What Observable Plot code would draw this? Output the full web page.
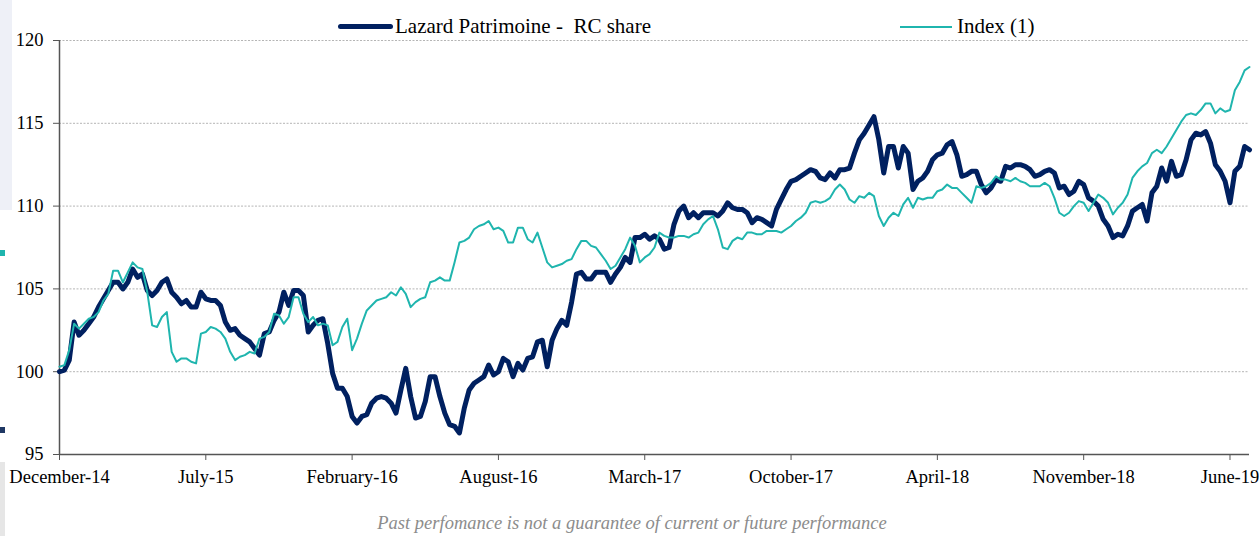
<!DOCTYPE html>
<html>
<head>
<meta charset="utf-8">
<script src="https://cdn.jsdelivr.net/npm/d3@7"></script>
<script src="https://cdn.jsdelivr.net/npm/@observablehq/plot@0.6"></script>
<style>
  html, body { margin: 0; padding: 0; background: #fff; }
  #wrap { position: relative; width: 1259px; height: 536px; overflow: hidden; font-family: "Liberation Serif", "Times New Roman", serif; }
  .leg { position: absolute; top: 12px; height: 28px; line-height: 28px; font-size: 21px; color: #000; white-space: pre; }
  .sw { position: absolute; }
  #caption { position: absolute; left: 0; width: 1264px; top: 511px; height: 24px; line-height: 24px; text-align: center; font-style: italic; font-size: 18.5px; color: #8c8c8c; }
  .deco { position: absolute; }
</style>
</head>
<body>
<div id="wrap">
  <div id="chart"></div>
  <div class="deco" style="left:0;top:0;width:12px;height:210px;background:#eef0f7;"></div>
  <div class="deco" style="left:0;top:250px;width:5px;height:6px;background:#1fb5ae;"></div>
  <div class="deco" style="left:0;top:427px;width:5px;height:6px;background:#1f3864;"></div>
  <div class="deco" style="left:0;top:462px;width:5px;height:74px;background:#e6e6e6;"></div>
  <div class="sw" id="sw1" style="left:338px;top:24px;width:55px;height:5px;border-radius:3px;"></div>
  <div class="leg" id="lg1" style="left:395px;"></div>
  <div class="sw" id="sw2" style="left:900px;top:25.5px;width:52px;height:2px;"></div>
  <div class="leg" id="lg2" style="left:957px;"></div>
  <div id="caption"></div>
</div>
<script>
// ---- Data (weekly observations, Dec-2014 .. Jul-2019) ----
const seriesNames = ["Lazard Patrimoine -  RC share", "Index (1)"];

const lazard = [
  100.0, 100.1, 100.7, 103.0, 102.2, 102.5, 102.9, 103.3, 103.9, 104.4,
  104.9, 105.4, 105.4, 105.0, 105.4, 106.2, 105.7, 105.9, 104.9, 104.6,
  104.9, 105.4, 105.6, 104.8, 104.5, 104.1, 104.3, 103.9, 103.9, 104.8,
  104.4, 104.3, 104.3, 104.0, 103.0, 102.5, 102.6, 102.2, 102.0, 101.8,
  101.4, 101.0, 102.3, 102.4, 103.1, 103.6, 104.8, 104.0, 104.9, 104.9,
  104.6, 102.4, 102.8, 103.1, 103.2, 101.7, 99.9, 99.0, 99.0, 98.5,
  97.3, 96.9, 97.3, 97.4, 98.1, 98.4, 98.5, 98.4, 98.1, 97.5,
  98.9, 100.2, 98.5, 97.2, 97.3, 98.2, 99.7, 99.7, 98.5, 97.5,
  96.8, 96.7, 96.3, 97.8, 98.9, 99.3, 99.5, 99.7, 100.4, 99.8,
  100.0, 100.8, 100.6, 99.7, 100.5, 100.1, 100.8, 100.9, 101.8, 101.9,
  100.3, 101.9, 102.6, 103.1, 102.8, 104.2, 105.9, 106.0, 105.6, 105.6,
  106.0, 106.0, 106.0, 105.4, 105.9, 106.3, 106.9, 106.6, 108.1, 108.1,
  108.3, 108.0, 108.2, 108.0, 107.4, 107.5, 108.9, 109.7, 110.0, 109.3,
  109.6, 109.3, 109.6, 109.6, 109.6, 109.4, 109.7, 110.2, 109.9, 109.8,
  109.8, 109.6, 109.0, 109.3, 109.2, 109.0, 108.8, 109.8, 110.4, 111.0,
  111.5, 111.6, 111.8, 112.0, 112.2, 112.1, 111.7, 111.6, 112.0, 111.7,
  112.2, 112.2, 112.3, 113.2, 114.0, 114.4, 114.9, 115.4, 114.0, 112.0,
  113.6, 113.6, 112.3, 113.6, 113.2, 111.0, 111.5, 111.7, 112.1, 112.8,
  113.1, 113.2, 113.7, 113.9, 113.1, 111.8, 111.9, 112.1, 112.1, 111.3,
  110.8, 111.1, 111.6, 111.5, 112.4, 112.3, 112.5, 112.5, 112.4, 112.2,
  111.8, 111.9, 112.1, 112.2, 112.0, 111.1, 111.2, 110.7, 110.9, 111.5,
  111.3, 110.5, 110.3, 110.0, 109.2, 108.8, 108.1, 108.3, 108.2, 108.8,
  109.7, 109.9, 110.1, 109.1, 110.8, 111.2, 112.3, 111.5, 112.7, 111.8,
  111.9, 112.8, 114.0, 114.4, 114.3, 114.5, 113.8, 112.5, 112.1, 111.5,
  110.2, 112.1, 112.4, 113.6, 113.4
];

const index1 = [
  100.3, 100.4, 101.3, 102.9, 102.6, 102.9, 103.2, 103.3, 103.6, 104.3,
  104.7, 106.1, 106.1, 105.4, 106.0, 106.6, 106.3, 106.2, 104.8, 102.8,
  102.7, 103.3, 103.6, 101.2, 100.6, 100.8, 100.8, 100.6, 100.5, 102.3,
  102.4, 102.7, 102.6, 102.4, 102.0, 101.2, 100.7, 100.9, 101.0, 101.2,
  101.1, 102.0, 102.1, 102.4, 103.5, 103.4, 102.9, 103.3, 104.5, 104.5,
  103.5, 103.0, 103.3, 102.8, 102.9, 102.8, 101.6, 101.8, 102.7, 103.2,
  101.3, 102.0, 102.9, 103.7, 104.0, 104.3, 104.4, 104.5, 104.8, 104.6,
  105.1, 104.7, 103.9, 104.2, 104.4, 104.5, 105.4, 105.5, 105.7, 105.5,
  105.5, 106.6, 107.8, 107.9, 108.1, 108.6, 108.8, 108.9, 109.1, 108.6,
  108.7, 108.5, 107.8, 107.8, 108.7, 108.7, 108.0, 107.8, 108.4, 107.5,
  106.6, 106.3, 106.4, 106.5, 106.7, 106.8, 107.4, 107.9, 107.9, 107.6,
  107.5, 107.1, 106.7, 106.2, 106.4, 106.9, 107.4, 108.1, 107.6, 106.6,
  106.9, 107.1, 107.5, 108.4, 108.2, 108.1, 108.1, 108.2, 108.2, 108.1,
  108.3, 108.4, 108.9, 109.2, 109.4, 108.6, 107.5, 107.4, 107.9, 108.1,
  108.0, 108.4, 108.4, 108.3, 108.3, 108.5, 108.5, 108.5, 108.4, 108.6,
  108.8, 109.1, 109.3, 109.6, 110.2, 110.3, 110.2, 110.3, 110.5, 111.0,
  111.3, 111.0, 110.4, 110.2, 110.6, 110.5, 110.8, 110.6, 109.4, 108.8,
  109.3, 109.6, 109.4, 110.1, 110.5, 109.9, 110.5, 110.4, 110.5, 110.5,
  110.9, 111.0, 111.3, 111.1, 111.1, 110.8, 110.5, 110.2, 111.2, 111.1,
  111.2, 111.4, 111.8, 111.6, 111.6, 111.5, 111.7, 111.5, 111.4, 111.2,
  111.2, 111.2, 111.4, 111.2, 110.5, 109.6, 109.4, 109.6, 110.0, 110.3,
  110.2, 109.7, 110.2, 110.7, 110.5, 110.2, 109.5, 109.9, 110.2, 110.7,
  111.7, 112.1, 112.4, 112.6, 113.2, 113.4, 113.2, 113.6, 114.1, 114.6,
  115.1, 115.5, 115.6, 115.5, 115.8, 116.2, 116.2, 115.6, 115.9, 115.7,
  115.8, 117.0, 117.5, 118.2, 118.4
];

const tickWeeks = [0, 30, 60, 90, 120, 150, 180, 210, 240];
const tickLabels = ["December-14", "July-15", "February-16", "August-16", "March-17",
                    "October-17", "April-18", "November-18", "June-19"];
const yTicks = [95, 100, 105, 110, 115, 120];
const caption = "Past perfomance is not a guarantee of current or future performance";

// ---- build ----
const navy = "#002060";
const teal = "#1fb5ae";
const weeks = d3.range(lazard.length);
const rowsL = weeks.map(i => ({week: i, value: lazard[i]}));
const rowsI = weeks.map(i => ({week: i, value: index1[i]}));

const chart = Plot.plot({
  width: 1259,
  height: 500,
  marginTop: 40,
  marginBottom: 46,
  marginLeft: 59,
  marginRight: 10,
  style: {fontFamily: "'Liberation Serif', 'Times New Roman', serif", fontSize: "18.5px", color: "#000", background: "transparent"},
  x: {domain: [0, weeks.length - 1], axis: null},
  y: {domain: [95, 120], axis: null},
  marks: [
    Plot.gridY(yTicks.slice(1), {stroke: "#b5b5b5", strokeOpacity: 1, strokeWidth: 1, strokeDasharray: "2,1.5"}),
    Plot.axisY(yTicks, {tickSize: 6, tickPadding: 10, stroke: "#555", fill: "#000", fontSize: 18.5, label: null}),
    Plot.axisX(tickWeeks, {tickSize: 6, tickPadding: 9, stroke: "#555", fill: "#000", fontSize: 18.5, label: null,
      tickFormat: d => tickLabels[tickWeeks.indexOf(d)]}),
    Plot.ruleY([95], {stroke: "#555", strokeWidth: 1.5}),
    Plot.ruleX([0], {stroke: "#555", strokeWidth: 1.5}),
    Plot.line(rowsL, {x: "week", y: "value", stroke: navy, strokeWidth: 5, strokeLinejoin: "round", strokeLinecap: "round"}),
    Plot.line(rowsI, {x: "week", y: "value", stroke: teal, strokeWidth: 2, strokeLinejoin: "round"})
  ]
});
document.getElementById("chart").appendChild(chart);

document.getElementById("sw1").style.background = navy;
document.getElementById("sw2").style.background = teal;
document.getElementById("lg1").textContent = seriesNames[0];
document.getElementById("lg2").textContent = seriesNames[1];
document.getElementById("caption").textContent = caption;
</script>
</body>
</html>
